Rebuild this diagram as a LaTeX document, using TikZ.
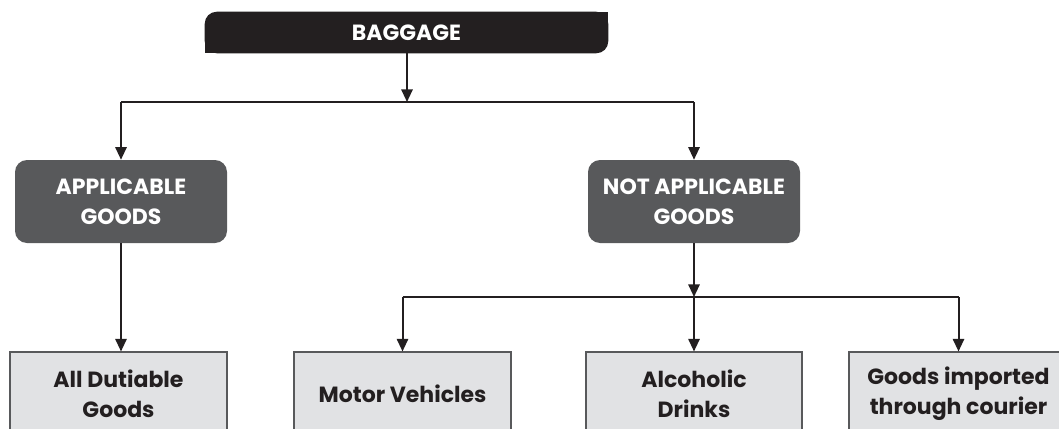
\documentclass[tikz,border=0pt]{standalone}
\usepackage{fontspec}
\setmainfont{Poppins}
\usetikzlibrary{arrows.meta,backgrounds}
\definecolor{bagfill}{HTML}{231F20}
\definecolor{darkbox}{HTML}{58595B}
\definecolor{lightbox}{HTML}{E1E2E4}
\definecolor{ink}{HTML}{231F20}
\tikzset{
  txt/.style={font=\fontsize{16.5}{22.5}\selectfont\bfseries, align=center},
  darknode/.style={txt, fill=darkbox, text=white, rounded corners=9pt, inner sep=0pt},
  lightnode/.style={txt, fill=lightbox, draw=darkbox, line width=0.8pt, text=ink, inner sep=0pt},
  conn/.style={draw=ink, line width=1.5pt},
  arr/.style={conn, -{Triangle[length=9.5pt,width=8.5pt]}},
}
\begin{document}
\begin{tikzpicture}[x=0.75pt,y=-0.75pt]
\useasboundingbox (0,0) rectangle (1059,428);
\clip (0,0) rectangle (1059,428);
% BAGGAGE header
\node[txt, text=white, minimum width=403*0.75pt, minimum height=41*0.75pt, inner sep=0pt] (bag) at (406.5,32.5) {BAGGAGE};
\begin{scope}[on background layer]
\fill[bagfill, rounded corners=9pt] (bag.south west) rectangle (bag.north east);
\fill[bagfill] (bag.south west) rectangle ([xshift=-30pt]bag.south east |- bag.center);
\fill[bagfill] ([xshift=30pt]bag.north west) rectangle (bag.north east |- bag.center);
\end{scope}
% level 2
\node[darknode, minimum width=212*0.75pt, minimum height=83*0.75pt] (app) at (121,201.5) {APPLICABLE\\GOODS};
\node[darknode, minimum width=212*0.75pt, minimum height=83*0.75pt] (nap) at (694,201.5) {NOT APPLICABLE\\GOODS};
% level 3
\node[lightnode, minimum width=217*0.75pt, minimum height=84*0.75pt] (dut) at (118.5,394) {All Dutiable\\Goods};
\node[lightnode, minimum width=217*0.75pt, minimum height=84*0.75pt] (mot) at (402.5,394) {Motor Vehicles};
\node[lightnode, minimum width=216*0.75pt, minimum height=84*0.75pt] (alc) at (694,394) {Alcoholic\\Drinks};
\node[lightnode, minimum width=219*0.75pt, minimum height=84*0.75pt] (cou) at (958.5,394) {Goods imported\\through courier};
% junctions
\coordinate (j1) at (407,102);
\coordinate (j1l) at (app.north |- j1);
\coordinate (j1r) at (nap.north |- j1);
\coordinate (j2) at (nap.south |- 0,297);
\coordinate (j2l) at (mot.north |- j2);
\coordinate (j2r) at (cou.north |- j2);
% connectors
\draw[arr] (bag.south -| j1) -- (j1);
\draw[conn] (j1l) -- (j1r);
\draw[arr] (j1l) -- (app.north);
\draw[arr] (j1r) -- (nap.north);
\draw[arr] (app.south) -- (app.south |- dut.north);
\draw[arr] (nap.south) -- (j2);
\draw[conn] (j2l) -- (j2r);
\draw[arr] (j2l) -- (mot.north);
\draw[arr] (j2) -- (alc.north);
\draw[arr] (j2r) -- (cou.north);
\end{tikzpicture}
\end{document}
